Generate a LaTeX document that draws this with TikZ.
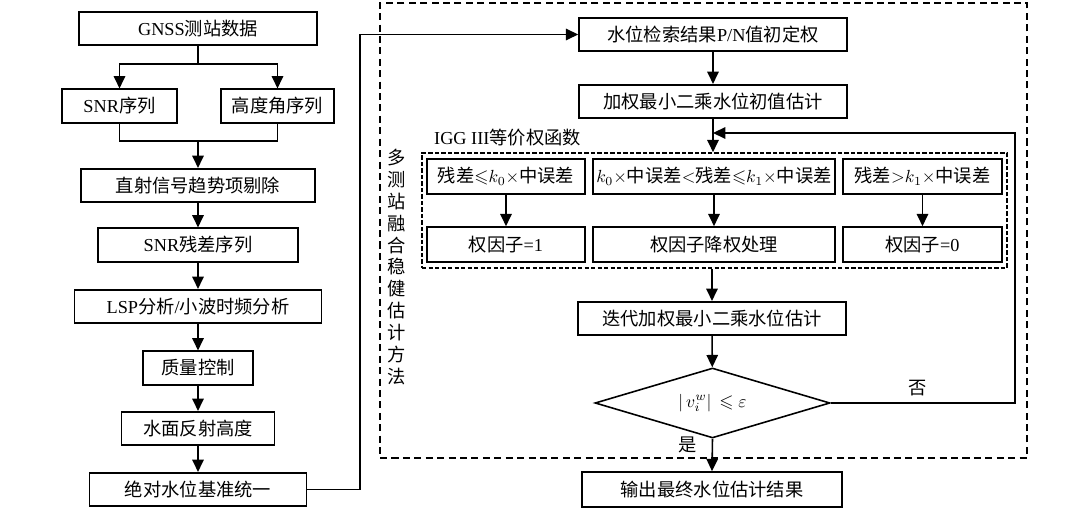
\documentclass[tikz,border=0pt]{standalone}
\usepackage{amsmath,amssymb}
\usepackage{fontspec}
\setmainfont{Liberation Serif}
\newfontfamily\cjk{Noto Sans CJK SC}
\newcommand{\zh}[1]{{\cjk #1}}
\usetikzlibrary{shapes.geometric, arrows.meta, positioning}
\tikzset{
  %% Process box
  pbox/.style={
    rectangle, draw=black, fill=white, line width=0.9pt,
    minimum width=#1, minimum height=0.67cm,
    inner sep=2pt, text centered
  },
  pbox/.default=4cm,
  %% Arrow and plain line
  arr/.style={-{Triangle[length=7pt,width=6.5pt]}, line width=0.9pt},
  ln/.style={line width=0.9pt},
  %% Decision diamond
  cond/.style={
    diamond, draw=black, fill=white, line width=0.9pt,
    aspect=3.36, minimum width=4.7cm, minimum height=1.4cm,
    inner sep=0pt
  },
  %% Dashed frames
  odash/.style={rectangle, draw=black, line width=0.9pt,
    dash pattern=on 4pt off 2.5pt},
  idash/.style={rectangle, draw=black, line width=0.9pt,
    dash pattern=on 2.5pt off 1.2pt},
}

\begin{document}
\begin{tikzpicture}[x=0.02cm, y=-0.02cm,
  every node/.style={font=\fontsize{10.4}{12.5}\selectfont}]

  \useasboundingbox (0,0) rectangle (1080,509);

  %% Frames of the right part
  \node[odash, minimum width=12.94cm, minimum height=9.1cm] (outer) at (703.5,230.5) {};
  \node[idash, minimum width=11.7cm, minimum height=2.3cm] (igg) at (714.5,210.5) {};

  %% Left column
  \node[pbox=4.76cm] (gnss)   at (198,28.5)  {GNSS\zh{测站数据}};
  \node[pbox=2.3cm]  (snr)    at (119.5,106) {SNR\zh{序列}};
  \node[pbox=2.26cm] (elev)   at (277.5,106) {\zh{高度角序列}};
  \node[pbox=4.68cm] (direct) at (198,185.5) {\zh{直射信号趋势项剔除}};
  \node[pbox=4.0cm]  (resid)  at (198,245)   {SNR\zh{残差序列}};
  \node[pbox=4.94cm] (lsp)    at (198,306.5) {LSP\zh{分析}/\zh{小波时频分析}};
  \node[pbox=2.2cm]  (qc)     at (198,368)   {\zh{质量控制}};
  \node[pbox=3.06cm] (refl)   at (198,428.5) {\zh{水面反射高度}};
  \node[pbox=4.34cm] (datum)  at (198,489.5) {\zh{绝对水位基准统一}};

  \coordinate (split) at (198,64);
  \coordinate (merge) at (198,141);
  \draw[arr] (gnss.south) -- (split) -| (snr.north);
  \draw[arr] (split) -| (elev.north);
  \draw[ln]  (snr.south) |- (merge) -| (elev.south);
  \draw[arr] (merge) -- (direct.north);
  \draw[arr] (direct) -- (resid);
  \draw[arr] (resid) -- (lsp);
  \draw[arr] (lsp) -- (qc);
  \draw[arr] (qc) -- (refl);
  \draw[arr] (refl) -- (datum);

  %% Right column
  \node[pbox=5.36cm] (init) at (713,34.5)  {\zh{水位检索结果}P/N\zh{值初定权}};
  \node[pbox=5.36cm] (wls)  at (713,101.5) {\zh{加权最小二乘水位初值估计}};

  \node[anchor=west] (igglbl) at (428,138) {IGG III\zh{等价权函数}};

  %% IGG III cases
  \node[pbox=3.16cm, minimum height=0.7cm] (c1) at (506,176.5)
       {\zh{残差}${\leqslant}k_0{\times}$\zh{中误差}};
  \node[pbox=4.84cm, minimum height=0.7cm] (c2) at (714,176.5)
       {$k_0{\times}$\zh{中误差}${<}$\zh{残差}${\leqslant}k_1{\times}$\zh{中误差}};
  \node[pbox=3.18cm, minimum height=0.7cm] (c3) at (922.5,176.5)
       {\zh{残差}${>}k_1{\times}$\zh{中误差}};
  \node[pbox=3.16cm, minimum height=0.7cm] (f1) at (506,244.5) {\zh{权因子}=1};
  \node[pbox=4.84cm, minimum height=0.7cm] (f2) at (714,244.5) {\zh{权因子降权处理}};
  \node[pbox=3.18cm, minimum height=0.7cm] (f3) at (922.5,244.5) {\zh{权因子}=0};
  \foreach \i in {1,2,3}
    \draw[arr] (c\i) -- (f\i);

  \node[pbox=5.36cm] (iter) at (712,318.5) {\zh{迭代加权最小二乘水位估计}};
  \node[cond] (test) at (712.5,403) {$\left|\,v_i^{w}\right|\,\leqslant\varepsilon$};
  \node[pbox=5.2cm, minimum height=0.7cm] (out) at (712,489.5) {\zh{输出最终水位估计结果}};

  %% Vertical label
  \node[align=center, inner sep=0pt] (method) at (397,267)
       {\zh{多}\\\zh{测}\\\zh{站}\\\zh{融}\\\zh{合}\\\zh{稳}\\\zh{健}\\\zh{估}\\\zh{计}\\\zh{方}\\\zh{法}};

  %% Connectors
  \draw[arr] (datum.east) -- ++(53,0) |- (init.west);
  \draw[arr] (init) -- (wls);
  \draw[arr] (wls.south) -- (wls.south |- igg.north);
  \draw[arr] (iter.north |- igg.south) -- (iter.north);
  \draw[arr] (iter) -- (test);
  \coordinate (fb) at (713,133);
  \draw[arr] (test.east) -- node[above, pos=0.47] (no) {\zh{否}} ++(184,0) |- (fb);
  \draw[arr] (test.south) -- (out.north);
  \node (yes) at (688,445) {\zh{是}};

\end{tikzpicture}
\end{document}
